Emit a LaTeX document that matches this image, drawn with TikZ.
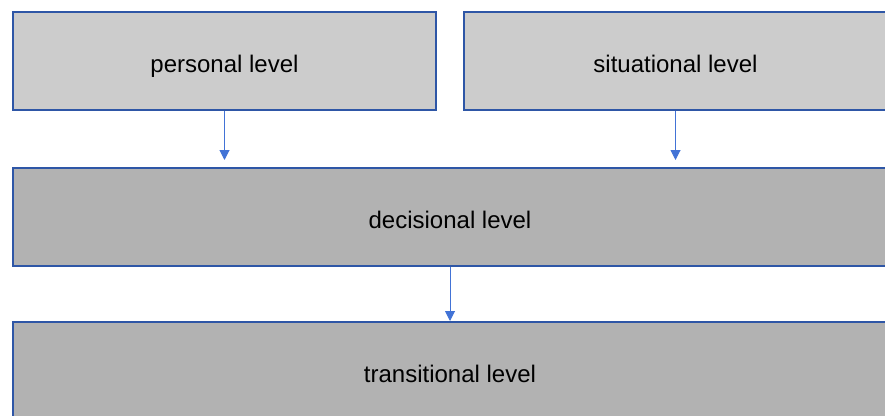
\documentclass[tikz,border=0pt]{standalone}
\usepackage{fontspec}
\setmainfont{Liberation Sans}
\usepackage{tikz}
\usetikzlibrary{arrows.meta}
\usetikzlibrary{positioning}

\definecolor{boxblue}{RGB}{46,86,166}
\definecolor{linkblue}{RGB}{66,115,214}
\definecolor{upperfill}{RGB}{204,204,204}
\definecolor{lowerfill}{RGB}{178,178,178}

\begin{document}
\begin{tikzpicture}[ x=1pt, y=-1pt,
      level/.style={ rectangle, draw=boxblue, line width=2pt, inner sep=0pt,
        minimum height=98pt, text height=24pt, text depth=2pt,
        font=\fontsize{24}{28}\selectfont},
      upper/.style={ level, fill=upperfill, minimum width=423pt},
      lower/.style={ level, fill=lowerfill, minimum width=874pt},
      link/.style={ draw=linkblue, line width=1pt,
        -{Triangle[width=10pt,length=10pt]}}
      ]
      \useasboundingbox (0,0) rectangle (885,415);
      \clip (0,0) rectangle (885,415);

      % upper row
      \node[upper] (Personal) at (224.5,61) {personal level};
      \node[upper] (Situational) at (675.5,61) {situational level};

      % lower rows
      \node[lower] (Decisional) at (450,217) {decisional level};
      \node[lower] (Transitional) at (450,371) {transitional level};

      % links
      \draw[link, shorten >=7pt] (Personal.south) -- (Personal.south |- Decisional.north);
      \draw[link, shorten >=7pt] (Situational.south) -- (Situational.south |- Decisional.north);
      \draw[link] (Decisional) -- (Transitional);
    \end{tikzpicture}
\end{document}
